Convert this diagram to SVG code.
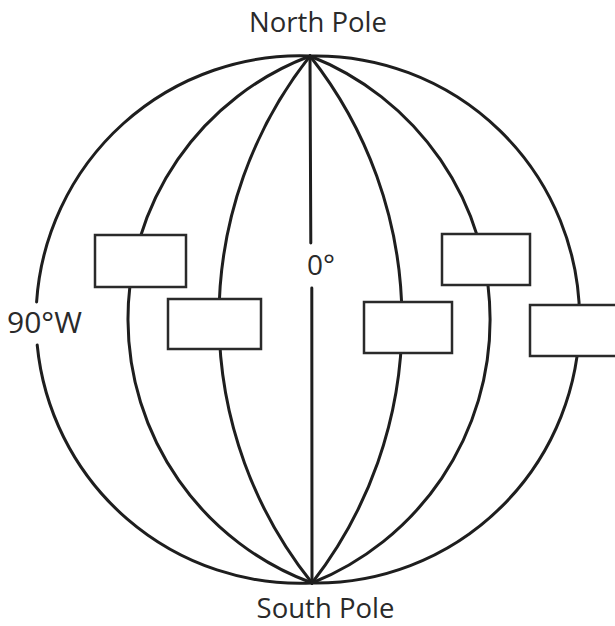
<svg xmlns="http://www.w3.org/2000/svg" width="615" height="626" viewBox="0 0 615 626">
<style>
.m{fill:none;stroke:#1e1e1e;stroke-width:3;stroke-linecap:round}
.b{fill:#fff;stroke:#2a2a2a;stroke-width:2.5}
.t{font-family:"Open Sans","DejaVu Sans",sans-serif;font-size:27.5px;fill:#2a2a2a}
</style>
<rect width="615" height="626" fill="#fff"/>
<g id="connectors">
<path class="m" d="M310,56 A263.8 263.8 0 0 0 36.6,302 M37.2,345 A263.8 263.8 0 0 0 312,583"/>
<path class="m" d="M310,56 A281.2 281.2 0 0 0 312,583"/>
<path class="m" d="M310,56 A423.3 423.3 0 0 0 312,583"/>
<path class="m" d="M310,56 L310.8,243 M311.8,288 L312,583"/>
<path class="m" d="M310,56 A427 427 0 0 1 312,583"/>
<path class="m" d="M310,56 A283.4 283.4 0 0 1 312,583"/>
<path class="m" d="M310,56 A263.55 263.55 0 1 1 312,583"/>
</g>
<g id="box1"><rect class="b" x="95" y="235" width="91" height="52"/></g>
<g id="box2"><rect class="b" x="168" y="299" width="93" height="50"/></g>
<g id="box3"><rect class="b" x="364" y="302" width="88" height="51"/></g>
<g id="box4"><rect class="b" x="442" y="234" width="88" height="51"/></g>
<g id="box5"><rect class="b" x="530" y="305" width="95" height="51"/></g>
<g id="north"><text class="t" x="318" y="32" text-anchor="middle">North Pole</text></g>
<g id="south"><text class="t" x="325.5" y="618" text-anchor="middle">South Pole</text></g>
<g id="zero"><text class="t" x="307" y="275" style="font-size:28px">0°</text></g>
<g id="west"><text class="t" x="7" y="333" style="font-size:30px">90°W</text></g>
</svg>
